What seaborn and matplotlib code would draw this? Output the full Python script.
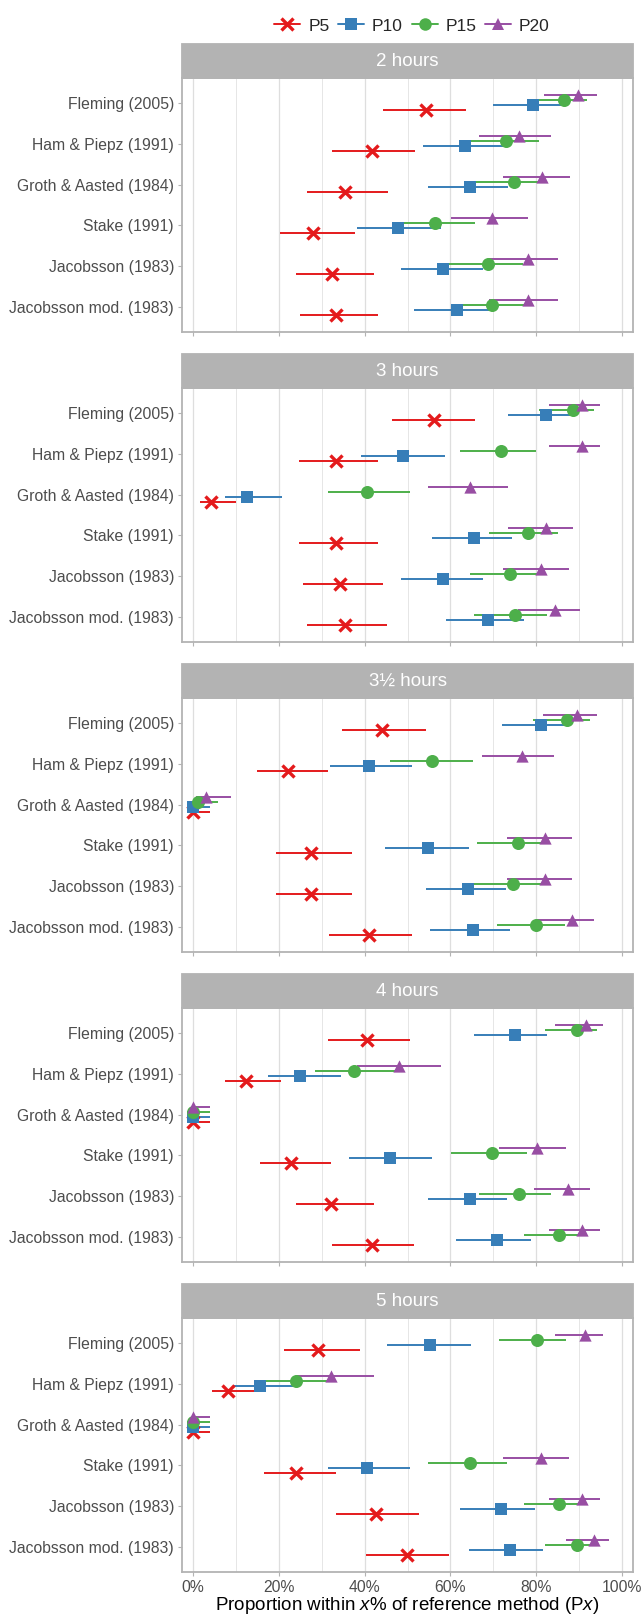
import matplotlib
matplotlib.use("Agg")
import matplotlib.pyplot as plt
import pandas as pd
import seaborn as sns
from matplotlib.lines import Line2D
from matplotlib.patches import Rectangle
from matplotlib.ticker import MultipleLocator, FuncFormatter

methods = ["Fleming (2005)", "Ham & Piepz (1991)", "Groth & Aasted (1984)",
           "Stake (1991)", "Jacobsson (1983)", "Jacobsson mod. (1983)"]
hours = ["2 hours", "3 hours", "3½ hours", "4 hours", "5 hours"]
series = ["P5", "P10", "P15", "P20"]

# rows = panels (2h, 3h, 3.5h, 4h, 5h), columns = methods
p5_est = [[54.2, 41.6, 35.4, 28.0, 32.3, 33.3],
          [56.2, 33.3, 4.1, 33.3, 34.3, 35.4],
          [44.1, 22.1, 0.0, 27.4, 27.4, 41.0],
          [40.6, 12.4, 0.0, 22.9, 32.2, 41.6],
          [29.1, 8.2, 0.0, 23.9, 42.7, 49.9]]
p5_lo = [[44.3, 32.3, 26.6, 20.2, 23.9, 24.9],
         [46.3, 24.7, 1.6, 24.7, 25.6, 26.6],
         [34.7, 14.9, 0.0, 19.4, 19.4, 31.7],
         [31.4, 7.4, 0.0, 15.7, 23.9, 32.4],
         [21.1, 4.4, 0.0, 16.6, 33.3, 40.2]]
p5_hi = [[63.7, 51.7, 45.4, 37.8, 42.2, 43.2],
         [65.7, 43.2, 10.1, 43.2, 44.3, 45.3],
         [54.2, 31.4, 3.9, 37.1, 37.1, 51.0],
         [50.6, 20.5, 3.9, 32.2, 42.1, 51.6],
         [38.8, 15.3, 3.9, 33.3, 52.6, 59.7]]

p10_est = [[79.2, 63.4, 64.6, 47.8, 58.3, 61.5],
           [82.2, 49.0, 12.6, 65.4, 58.3, 68.8],
           [81.1, 41.0, 0.0, 54.8, 64.1, 65.3],
           [75.1, 24.9, 0.0, 45.9, 64.6, 70.9],
           [55.2, 15.5, 0.0, 40.6, 71.7, 73.8]]
p10_lo = [[70.0, 53.6, 54.7, 38.3, 48.4, 51.5],
          [73.4, 39.2, 7.4, 55.8, 48.4, 59.0],
          [72.0, 31.8, 0.0, 44.8, 54.2, 55.3],
          [65.5, 17.5, 0.0, 36.4, 54.7, 61.2],
          [45.3, 9.3, 0.0, 31.5, 62.2, 64.3]]
p10_hi = [[86.0, 72.7, 73.4, 57.7, 67.5, 69.7],
          [88.0, 58.8, 20.6, 74.4, 67.6, 77.1],
          [87.0, 51.0, 3.9, 64.3, 73.0, 74.0],
          [82.6, 34.4, 3.9, 55.7, 73.3, 78.9],
          [64.7, 23.9, 3.9, 50.6, 79.8, 81.7]]

p15_est = [[86.4, 72.9, 74.9, 56.3, 68.7, 69.8],
           [88.5, 71.7, 40.6, 78.1, 73.9, 75.0],
           [87.3, 55.8, 1.2, 75.8, 74.7, 80.0],
           [89.5, 37.5, 0.0, 69.7, 75.9, 85.3],
           [80.1, 23.9, 0.0, 64.6, 85.3, 89.5]]
p15_lo = [[78.0, 64.6, 65.6, 46.4, 59.1, 60.1],
          [80.7, 62.2, 31.4, 68.9, 64.5, 65.5],
          [79.3, 45.8, 0.0, 66.3, 65.1, 70.9],
          [82.0, 28.5, 0.0, 60.1, 66.7, 77.1],
          [71.3, 16.3, 0.0, 54.7, 77.1, 82.0]]
p15_hi = [[91.9, 80.7, 82.6, 65.7, 77.0, 78.0],
          [93.5, 79.9, 50.6, 85.2, 81.6, 82.5],
          [92.6, 65.3, 5.7, 83.1, 82.4, 86.7],
          [94.2, 47.4, 3.9, 77.9, 83.4, 90.9],
          [86.9, 33.4, 3.9, 73.3, 90.9, 94.2]]

p20_est = [[89.7, 76.1, 81.3, 69.8, 78.2, 78.2],
           [90.7, 90.7, 64.6, 82.2, 81.2, 84.3],
           [89.5, 76.8, 3.1, 82.1, 82.1, 88.4],
           [91.7, 47.9, 0.0, 80.2, 87.5, 90.6],
           [91.5, 32.2, 0.0, 81.2, 90.6, 93.6]]
p20_lo = [[81.9, 66.6, 72.3, 60.1, 68.9, 68.9],
          [83.1, 83.1, 54.7, 73.4, 72.3, 75.8],
          [81.7, 67.4, 0.6, 73.2, 73.2, 80.0],
          [84.5, 38.1, 0.0, 71.3, 79.4, 83.1],
          [84.5, 24.3, 0.0, 72.3, 83.1, 87.0]]
p20_hi = [[94.3, 83.4, 87.8, 78.0, 85.2, 85.2],
          [95.0, 95.0, 73.4, 88.6, 87.6, 90.3],
          [94.2, 84.1, 8.9, 88.4, 88.4, 93.4],
          [95.6, 57.7, 3.9, 86.9, 92.6, 95.0],
          [95.6, 42.1, 3.9, 87.6, 95.0, 97.0]]

colors = {"P5": "#E41A1C", "P10": "#377EB8", "P15": "#4DAF4A", "P20": "#984EA3"}
markers = {"P5": "x", "P10": "s", "P15": "o", "P20": "^"}
sizes = {"P5": 75, "P10": 68, "P15": 88, "P20": 78}


def get_dataframe() -> pd.DataFrame:
    parts = {"P5": (p5_est, p5_lo, p5_hi), "P10": (p10_est, p10_lo, p10_hi),
             "P15": (p15_est, p15_lo, p15_hi), "P20": (p20_est, p20_lo, p20_hi)}
    rows = []
    for s_idx, name in enumerate(series):
        est, lo, hi = parts[name]
        for h_idx, panel in enumerate(hours):
            for m_idx, method in enumerate(methods):
                rows.append(dict(panel=panel, method=method, series=name,
                                 est=est[h_idx][m_idx], lo=lo[h_idx][m_idx],
                                 hi=hi[h_idx][m_idx],
                                 # dodge: P5 lowest, P20 highest
                                 y=m_idx - (s_idx - 1.5) * 0.125))
    return pd.DataFrame(rows)


def plot(df: pd.DataFrame, filename: str):
    sns.set_style("white")
    plt.rcParams["font.family"] = ["Liberation Sans", "DejaVu Sans"]
    plt.rcParams["mathtext.fontset"] = "custom"
    plt.rcParams["mathtext.it"] = "Liberation Sans:italic"
    plt.rcParams["mathtext.rm"] = "Liberation Sans"

    fig, axes = plt.subplots(5, 1, figsize=(6.44, 16.17), dpi=100, sharex=True)
    fig.subplots_adjust(left=0.283, right=0.983, top=1 - 78 / 1617,
                        bottom=1 - 1572 / 1617, hspace=56 / 254)

    for ax, panel in zip(axes, hours):
        sub = df[df["panel"] == panel]
        for name in series:
            s = sub[sub["series"] == name]
            ax.hlines(s["y"], s["lo"], s["hi"], color=colors[name], lw=1.4, zorder=2)
        for name in series:
            s = sub[sub["series"] == name]
            if markers[name] == "x":
                sns.scatterplot(data=s, x="est", y="y", marker="x", color=colors[name],
                                s=sizes[name], linewidth=2.4, ax=ax, zorder=3, legend=False)
            else:
                sns.scatterplot(data=s, x="est", y="y", marker=markers[name],
                                color=colors[name], s=sizes[name], linewidth=0,
                                ax=ax, zorder=3, legend=False)

        ax.set_xlim(-2.55, 102.6)
        ax.set_ylim(5.6, -0.6)
        ax.set_yticks(range(len(methods)))
        ax.set_yticklabels(methods)
        ax.set_xlabel("")
        ax.set_ylabel("")
        ax.xaxis.set_major_locator(MultipleLocator(20))
        ax.xaxis.set_minor_locator(MultipleLocator(10))
        ax.xaxis.set_major_formatter(FuncFormatter(lambda v, p: f"{v:.0f}%"))
        ax.grid(axis="x", which="major", color="#DEDEDE", lw=0.9)
        ax.grid(axis="x", which="minor", color="#E6E6E6", lw=0.7)
        ax.set_axisbelow(True)
        ax.tick_params(axis="both", which="major", length=3, width=0.8,
                       color="#B3B3B3", labelcolor="#4D4D4D", labelsize=11.3, pad=3)
        ax.tick_params(axis="x", which="minor", length=0)
        ax.tick_params(axis="x", bottom=True)
        ax.tick_params(axis="y", left=True)
        for sp in ax.spines.values():
            sp.set_color("#B3B3B3")
            sp.set_linewidth(1.3)

        strip_h = 34 / 254
        ax.add_patch(Rectangle((0, 1), 1, strip_h, transform=ax.transAxes,
                               facecolor="#B3B3B3", edgecolor="#B3B3B3", lw=1.3,
                               clip_on=False, zorder=5))
        ax.text(0.5, 1 + strip_h / 2, panel, transform=ax.transAxes, ha="center",
                va="center", color="white", fontsize=13.5, zorder=6)

    axes[-1].set_xlabel(r"Proportion within $x$% of reference method (P$x$)",
                        fontsize=13.5, color="black", labelpad=0)

    handles = [Line2D([0], [0], color=colors[n], marker=markers[n], lw=1.4,
                      markersize=9 if n != "P10" else 8,
                      markeredgewidth=2.4 if n == "P5" else 0, label=n)
               for n in series]
    fig.legend(handles=handles, loc="center", ncol=4, frameon=False,
               bbox_to_anchor=(412 / 644, 1 - 26 / 1617), fontsize=12.5,
               handlelength=1.5, handletextpad=0.45, columnspacing=0.5)

    print(f"Saving to {filename}")
    fig.savefig(filename, dpi=100)


def main():
    df = get_dataframe()
    plot(df, "out.png")


main()
